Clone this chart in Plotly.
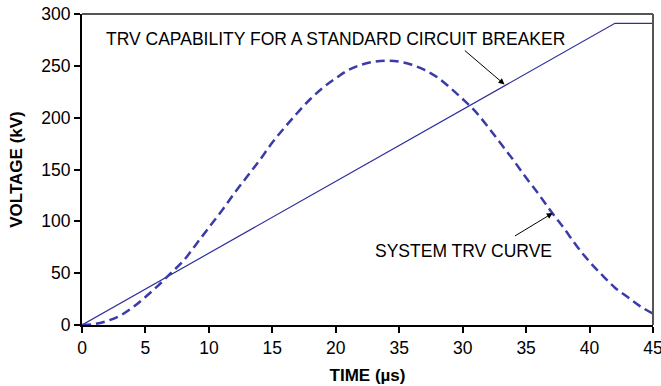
import plotly.graph_objects as go

# Data
cap_t = [0, 42, 45]
cap_v = [0, 291, 291]

sys_t = [0, 1, 2, 3, 4, 5, 6, 7, 8, 9, 10, 11, 12, 13, 14, 15, 16, 17, 18, 19, 20, 21, 22,
         23, 24, 25, 26, 27, 28, 29, 30, 31, 32, 33, 34, 35, 36, 37, 38, 39, 40, 41, 42,
         43, 44, 45]
sys_v = [0, 1, 4, 9, 17, 27, 38, 50, 62, 78, 94, 110, 127, 143, 159, 176, 191, 205, 218,
         229, 238, 246, 251, 254, 255, 254, 251, 246, 239, 229, 218, 206, 191, 175, 159,
         142, 126, 109, 93, 76, 61, 48, 36, 27, 18, 11]

x_tickvals = [0, 5, 10, 15, 20, 25, 30, 35, 40, 45]
x_ticktext = ["0", "5", "10", "15", "20", "35", "30", "35", "40", "45"]
y_tickvals = [0, 50, 100, 150, 200, 250, 300]

line_color = "#2E2EA0"
dash_color = "#3A3AA8"
font_family = "Liberation Sans, Arial, sans-serif"

fig = go.Figure()
fig.add_trace(go.Scatter(x=cap_t, y=cap_v, mode="lines",
                         line=dict(color=line_color, width=1.2), showlegend=False))
fig.add_trace(go.Scatter(x=sys_t, y=sys_v, mode="lines", line_shape="spline",
                         line=dict(color=dash_color, width=2.5, dash="9px,5px"),
                         showlegend=False))

fig.update_layout(
    width=661, height=386,
    margin=dict(l=82, r=8, t=14, b=61, autoexpand=False),
    paper_bgcolor="white", plot_bgcolor="white",
    font=dict(family=font_family, size=17.5, color="black"),
    xaxis=dict(range=[0, 45], tickvals=x_tickvals, ticktext=x_ticktext,
               ticklabeloverflow="allow", automargin=False,
               showgrid=False, zeroline=False, showline=True, linecolor="black",
               linewidth=2, ticks="outside", ticklen=6, tickwidth=2, tickcolor="black",
               title=dict(text="<b>TIME (µs)</b>", font=dict(size=17), standoff=12)),
    yaxis=dict(range=[0, 300], tickvals=y_tickvals, automargin=False,
               showgrid=False, zeroline=False, showline=True, linecolor="black",
               linewidth=2, ticks="outside", ticklen=6, tickwidth=2, tickcolor="black",
               title=dict(text="<b>VOLTAGE (kV)</b>", font=dict(size=17), standoff=14)),
    shapes=[
        dict(type="line", xref="paper", yref="paper", x0=0, x1=1, y0=1, y1=1,
             line=dict(color="#555555", width=2)),
        dict(type="line", xref="paper", yref="paper", x0=1, x1=1, y0=0, y1=1,
             line=dict(color="#555555", width=2)),
    ],
    annotations=[
        dict(x=1.7, y=276, xref="x", yref="y", text="TRV CAPABILITY FOR A STANDARD CIRCUIT BREAKER",
             showarrow=False, xanchor="left", yanchor="middle", font=dict(size=17.5)),
        dict(x=33.3, y=232, ax=30.05, ay=266, xref="x", yref="y", axref="x", ayref="y",
             text="", showarrow=True, arrowhead=2, arrowsize=1.2, arrowwidth=1, arrowcolor="black"),
        dict(x=22.9, y=71, xref="x", yref="y", text="SYSTEM TRV CURVE",
             showarrow=False, xanchor="left", yanchor="middle", font=dict(size=17.5)),
        dict(x=37.1, y=108, ax=34.0, ay=85, xref="x", yref="y", axref="x", ayref="y",
             text="", showarrow=True, arrowhead=2, arrowsize=1.2, arrowwidth=1, arrowcolor="black"),
    ],
)

fig.write_html("out.html")
